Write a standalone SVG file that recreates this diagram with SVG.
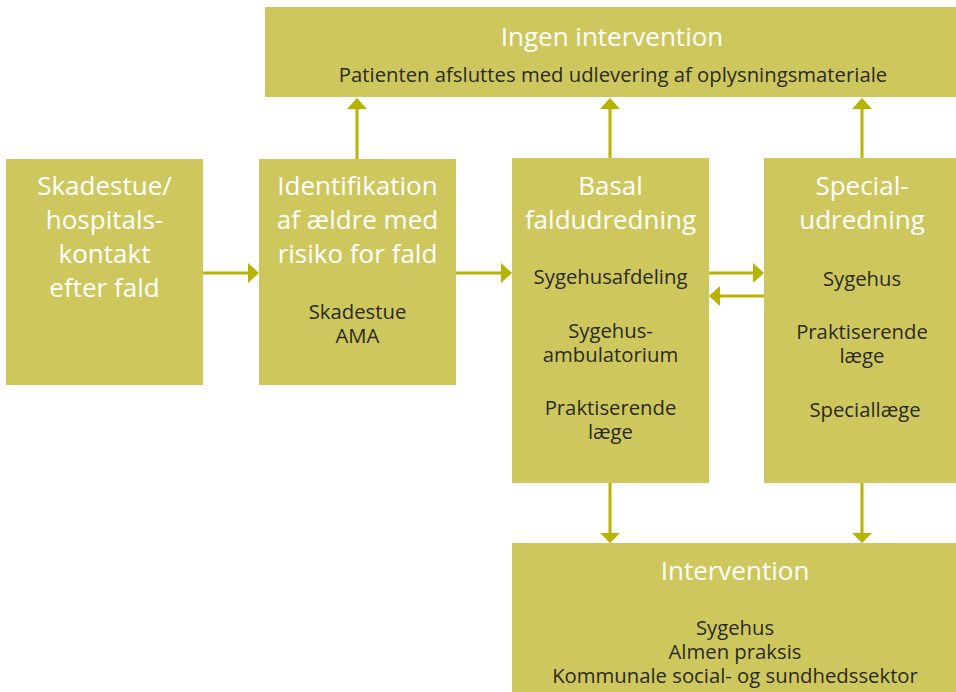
<svg xmlns="http://www.w3.org/2000/svg" width="956" height="692" viewBox="0 0 956 692">
  <defs>
    <style>
      .box { fill: #CEC75E; }
      .link { stroke: #B8B300; stroke-width: 3; fill: none; }
      .head { fill: #B8B300; }
      .title { font-family: "Open Sans", "Noto Sans", sans-serif; font-size: 26px; fill: #FFFFFF; text-anchor: middle; }
      .body { font-family: "Open Sans", "Noto Sans", sans-serif; font-size: 20.3px; fill: #2B2A1E; text-anchor: middle; }
    </style>
  </defs>
  <rect width="956" height="692" fill="#FFFFFF"/>

  <g id="ingen-intervention">
    <rect class="box" x="265" y="7" width="691" height="90"/>
    <text class="title" x="612" y="46">Ingen intervention</text>
    <text class="body" x="613" y="82">Patienten afsluttes med udlevering af oplysningsmateriale</text>
  </g>

  <g id="skadestue">
    <rect class="box" x="6" y="159" width="197" height="226"/>
    <text class="title" x="104.5" y="195">Skadestue/</text>
    <text class="title" x="104.5" y="229">hospitals-</text>
    <text class="title" x="104.5" y="263">kontakt</text>
    <text class="title" x="104.5" y="297">efter fald</text>
  </g>

  <g id="identifikation">
    <rect class="box" x="259" y="159" width="197" height="226"/>
    <text class="title" x="357.5" y="195">Identifikation</text>
    <text class="title" x="357.5" y="229">af ældre med</text>
    <text class="title" x="357.5" y="263">risiko for fald</text>
    <text class="body" x="357.5" y="319">Skadestue</text>
    <text class="body" x="357.5" y="343">AMA</text>
  </g>

  <g id="basal-faldudredning">
    <rect class="box" x="512" y="158" width="197" height="325"/>
    <text class="title" x="610.5" y="195">Basal</text>
    <text class="title" x="610.5" y="229">faldudredning</text>
    <text class="body" x="610.5" y="284">Sygehusafdeling</text>
    <text class="body" x="610.5" y="338">Sygehus-</text>
    <text class="body" x="610.5" y="362">ambulatorium</text>
    <text class="body" x="610.5" y="415">Praktiserende</text>
    <text class="body" x="610.5" y="439">læge</text>
  </g>

  <g id="specialudredning">
    <rect class="box" x="764" y="158" width="192" height="325"/>
    <text class="title" x="862" y="195">Special-</text>
    <text class="title" x="862" y="229">udredning</text>
    <text class="body" x="862" y="286">Sygehus</text>
    <text class="body" x="862" y="339">Praktiserende</text>
    <text class="body" x="862" y="363">læge</text>
    <text class="body" x="865" y="417">Speciallæge</text>
  </g>

  <g id="intervention">
    <rect class="box" x="512" y="543" width="444" height="149"/>
    <text class="title" x="735" y="580">Intervention</text>
    <text class="body" x="735" y="635">Sygehus</text>
    <text class="body" x="735" y="659">Almen praksis</text>
    <text class="body" x="735" y="683">Kommunale social- og sundhedssektor</text>
  </g>

  <g id="connectors">
    <!-- horizontal flow -->
    <line class="link" x1="203" y1="273" x2="249" y2="273"/>
    <polygon class="head" points="248,263 259,273 248,283"/>
    <line class="link" x1="456" y1="273" x2="502" y2="273"/>
    <polygon class="head" points="501,263 512,273 501,283"/>
    <line class="link" x1="709" y1="273" x2="754" y2="273"/>
    <polygon class="head" points="753,263 764,273 753,283"/>
    <line class="link" x1="764" y1="296" x2="719" y2="296"/>
    <polygon class="head" points="720,286 709,296 720,306"/>
    <!-- up to Ingen intervention -->
    <line class="link" x1="357" y1="159" x2="357" y2="108"/>
    <polygon class="head" points="347,109 357,98 367,109"/>
    <line class="link" x1="610" y1="158" x2="610" y2="108"/>
    <polygon class="head" points="600,109 610,98 620,109"/>
    <line class="link" x1="862" y1="158" x2="862" y2="108"/>
    <polygon class="head" points="852,109 862,98 872,109"/>
    <!-- down to Intervention -->
    <line class="link" x1="610" y1="483" x2="610" y2="534"/>
    <polygon class="head" points="600,533 610,543 620,533"/>
    <line class="link" x1="862" y1="483" x2="862" y2="534"/>
    <polygon class="head" points="852,533 862,543 872,533"/>
  </g>
</svg>
